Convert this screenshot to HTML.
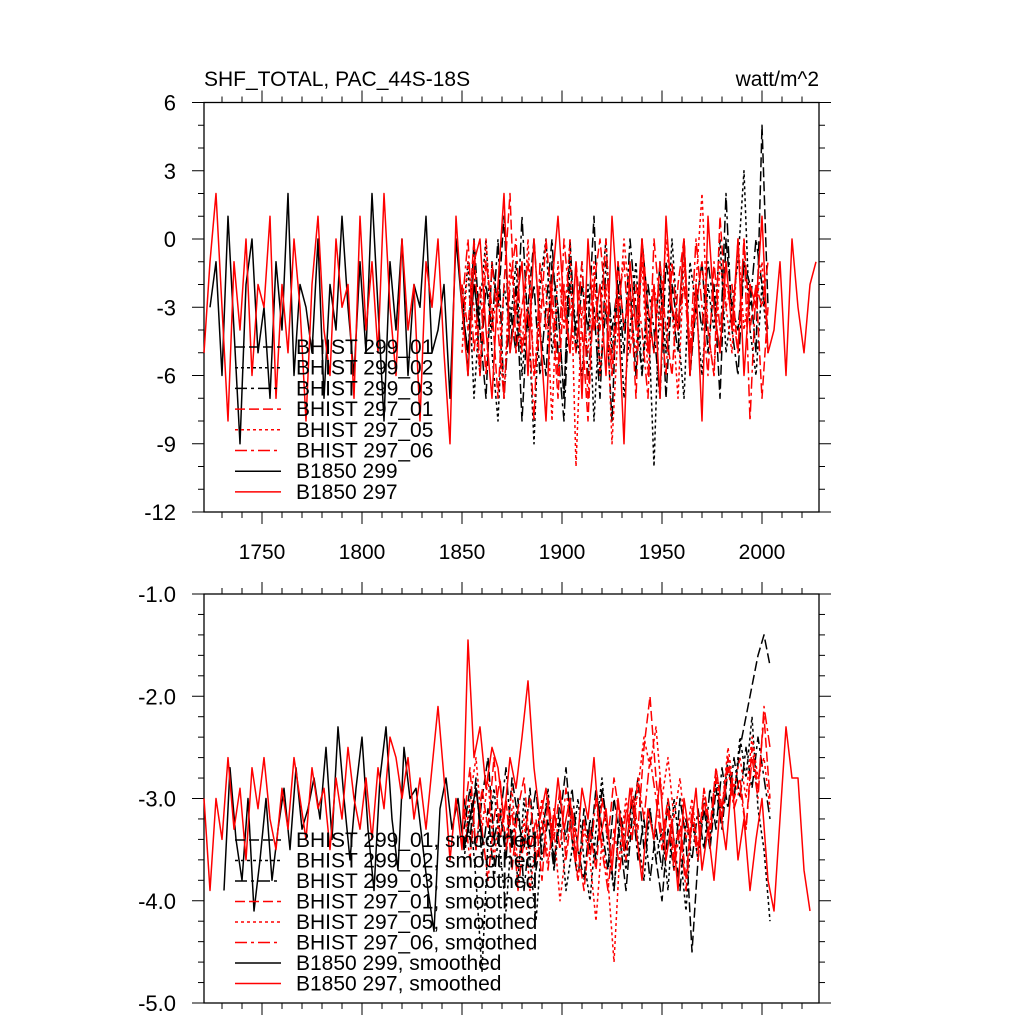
<!DOCTYPE html>
<html><head><meta charset="utf-8"><style>
html,body{margin:0;padding:0;background:#fff;}
svg{display:block;font-family:"Liberation Sans",sans-serif;}
</style></head><body>
<svg id="chart" width="1024" height="1024" viewBox="0 0 1024 1024">
<text x="204" y="86" font-size="21">SHF_TOTAL, PAC_44S-18S</text>
<text x="819" y="86" font-size="21" text-anchor="end">watt/m^2</text>
<g id="top"></g>
<g id="bot"></g>
</svg>
<script>
// ---- data ----
const xTickYears = [1750,1800,1850,1900,1950,2000];
const topYTicks = [6,3,0,-3,-6,-9,-12];
const botYTicks = [-1.0,-2.0,-3.0,-4.0,-5.0];
const seriesNames = ["BHIST 299_01","BHIST 299_02","BHIST 299_03","BHIST 297_01","BHIST 297_05","BHIST 297_06","B1850 299","B1850 297"];
const histStart = 1850, histStep = 3;
const rawH01 = [-2,-6,0,-4,-7,-1,-3,1,-5,-2,-8,-3,0,-4,-6,-1,-3,-7,0,-5,-2,-4,1,-6,-3,-8,-1,-4,-2,-6,0,-3,-5,-1,-7,-2,-4,0,-6,-3,-1,-5,-2,-7,0,-3,-4,-1,-2,-5,5,-3];
const rawH02 = [-4,-1,-7,-3,0,-5,-8,-2,-4,-1,-6,-3,-9,-2,0,-5,-3,-7,-1,-4,-6,-2,-8,-3,0,-5,-2,-7,-4,-1,-6,-3,-10,-2,-5,0,-4,-7,-1,-3,-6,-2,-4,0,-5,-3,-1,3,-4,-6,-2,-5];
const rawH03 = [-3,-5,-1,-6,-2,-4,0,-7,-3,-5,1,-4,-2,-6,-3,0,-5,-8,-2,-4,-1,-6,-3,-7,-1,-4,-2,-5,0,-3,-6,-2,-4,-7,-1,-3,-5,0,-6,-2,-4,-1,-3,-5,2,-4,-6,-1,-3,0,-2,-4];
const rawR01 = [-2,-4,0,-6,-1,-3,-7,-2,2,-5,-3,-1,-6,-4,0,-3,-7,-2,-5,-1,-4,-8,-2,0,-3,-6,-1,-4,-2,-7,0,-3,-5,-1,-4,-6,-2,0,-5,-3,-1,-4,-6,1,-3,-2,-5,0,-4,-2,-7,-3];
const rawR05 = [-5,-1,-3,-6,0,-4,-2,-7,-1,-3,-5,0,-6,-3,-2,-8,-1,-4,0,-10,-3,-5,-1,-6,-2,-9,-4,0,-3,-5,-1,-6,-2,-4,0,-3,-7,-1,-5,-2,2,-4,-6,-1,-3,-5,0,-4,-2,-3,-1,-5];
const rawR06 = [-3,0,-5,-2,-6,-1,-4,-7,-2,0,-5,-3,-8,-1,-4,-2,-6,0,-3,-5,-1,-7,-2,-4,0,-6,-3,-1,-5,-2,-4,-7,0,-3,-6,-1,-4,-2,-5,0,-3,-6,-1,-4,-2,-3,-5,0,-8,-2,-3,-1];
const rawB299Start = 1724;
const rawB299 = [-3,-1,-6,1,-4,-9,-2,0,-5,-3,-7,-1,-4,2,-6,-2,-3,-5,0,-7,-2,-4,1,-3,-6,-1,-5,2,-3,-8,-1,-4,0,-6,-2,-3,1,-5,-4,-2,-7,0,-3,-5,-2,-4];
const rawB297Start = 1721;
const rawB297 = [-5,-1,2,-3,-8,-1,-4,0,-6,-2,-3,1,-7,-2,-5,0,-3,-8,-2,1,-4,-6,0,-3,-2,-7,1,-4,-1,-5,2,-3,-6,0,-4,-2,-8,-1,-3,0,-5,-9,1,-3,-6,-1,0,-4,-7,-2,2,-5,-3,-1,-6,0,-4,-8,-2,1,-3,-5,-1,-7,0,-4,-2,-6,1,-3,-9,-1,-4,0,-5,-2,-7,1,-3,-4,0,-6,-2,-8,1,-3,-5,-1,-4,0,-6,-2,-3,1,-5,-4,-1,-6,0,-3,-5,-2,-1];
const smH01 = [-3.3,-2.9,-3.5,-3.0,-2.6,-3.4,-3.1,-3.6,-2.8,-3.2,-3.5,-2.9,-3.7,-3.3,-3.0,-3.6,-3.2,-2.7,-3.4,-3.8,-3.1,-3.5,-2.9,-3.3,-3.7,-3.0,-3.4,-3.9,-3.2,-2.8,-3.5,-3.1,-3.6,-4.0,-3.3,-3.7,-3.0,-3.4,-4.5,-3.6,-3.1,-3.5,-2.9,-3.3,-2.7,-3.0,-2.5,-2.2,-1.9,-1.6,-1.4,-1.7];
const smH02 = [-3.6,-3.1,-3.8,-4.7,-3.4,-2.9,-3.5,-4.1,-3.3,-3.8,-3.0,-3.6,-4.2,-3.4,-2.9,-3.7,-3.2,-3.9,-3.5,-3.0,-3.6,-4.0,-3.3,-2.8,-3.5,-3.9,-3.2,-3.7,-3.0,-3.4,-3.8,-3.1,-3.6,-3.3,-3.9,-3.0,-3.5,-4.1,-3.2,-3.6,-3.0,-3.4,-2.8,-3.2,-2.6,-3.0,-2.4,-2.8,-2.2,-3.1,-3.5,-4.2];
const smH03 = [-3.0,-3.4,-2.8,-3.6,-3.1,-3.8,-3.2,-2.7,-3.5,-3.0,-3.9,-3.3,-2.9,-3.6,-3.2,-3.7,-3.0,-3.4,-2.9,-3.5,-3.8,-3.2,-3.6,-2.9,-3.3,-3.9,-3.1,-3.5,-3.0,-3.6,-3.2,-3.8,-3.3,-3.7,-3.0,-3.4,-3.9,-3.2,-3.6,-3.1,-3.5,-2.9,-3.3,-2.7,-3.1,-2.6,-3.0,-2.5,-2.9,-2.4,-2.8,-3.2];
const smR01 = [-3.2,-2.7,-3.5,-2.9,-3.3,-2.6,-3.4,-3.0,-3.7,-3.1,-2.8,-3.5,-3.2,-3.8,-3.0,-3.4,-2.9,-3.6,-3.1,-3.5,-3.9,-3.3,-3.7,-3.0,-3.4,-2.8,-3.2,-3.6,-2.9,-3.3,-2.5,-2.0,-2.8,-3.4,-3.0,-3.6,-3.2,-3.8,-3.1,-3.5,-2.9,-3.3,-2.7,-3.1,-2.6,-3.0,-2.8,-3.3,-2.5,-2.9,-2.2,-3.0];
const smR05 = [-3.5,-3.0,-2.6,-3.3,-2.8,-3.6,-3.1,-3.4,-2.9,-3.7,-3.2,-3.9,-3.4,-3.0,-3.6,-3.3,-4.0,-3.5,-3.1,-3.8,-3.3,-3.6,-4.2,-3.4,-3.8,-4.6,-3.5,-3.0,-3.4,-2.9,-2.4,-2.7,-2.3,-3.0,-2.6,-3.2,-2.8,-3.4,-3.0,-3.5,-2.9,-3.3,-2.7,-3.1,-2.5,-2.9,-2.6,-3.0,-2.4,-2.8,-2.6,-3.1];
const smR06 = [-3.1,-3.6,-2.9,-3.3,-3.8,-3.2,-2.8,-3.5,-3.1,-3.9,-3.4,-3.0,-3.6,-3.2,-3.7,-3.1,-3.5,-2.9,-3.4,-3.8,-3.2,-3.6,-3.0,-3.5,-3.9,-3.3,-3.7,-3.1,-3.4,-2.8,-3.2,-2.6,-3.0,-3.5,-3.1,-3.7,-3.3,-3.9,-3.2,-3.6,-3.0,-3.4,-2.8,-3.2,-2.7,-3.1,-2.9,-3.3,-2.6,-3.0,-2.1,-2.5];
const smB299Start = 1731;
const smB299 = [-3.9,-2.7,-3.4,-3.8,-3.0,-4.1,-3.6,-3.0,-3.8,-3.3,-2.9,-3.5,-2.7,-3.3,-3.1,-2.8,-3.2,-2.5,-3.4,-2.3,-3.0,-3.6,-2.9,-2.4,-3.3,-3.9,-2.8,-2.3,-3.2,-3.7,-2.5,-3.0,-2.9,-3.4,-3.9,-4.3,-3.1,-2.8,-3.3,-3.0,-3.5,-3.2,-2.9,-3.4];
const smB297Start = 1721;
const smB297 = [-3.0,-3.9,-3.0,-3.4,-2.6,-3.3,-2.9,-3.6,-2.7,-3.1,-2.6,-3.2,-3.5,-2.9,-3.3,-2.6,-3.0,-3.4,-2.7,-3.1,-2.9,-3.5,-2.8,-3.2,-2.5,-3.0,-3.3,-2.8,-3.4,-2.7,-3.1,-2.4,-2.6,-3.0,-2.6,-3.2,-2.8,-3.3,-2.7,-2.1,-2.8,-3.6,-3.0,-3.5,
 -1.45,-2.6,-2.3,-2.9,-2.5,-2.7,-3.2,-2.6,-2.9,-2.4,-1.85,
 -2.7,-3.2,-2.9,-3.4,-2.8,-3.3,-3.0,-3.6,-2.9,-3.2,-2.6,-3.4,-3.1,-3.7,-3.0,-3.5,-2.9,-3.3,-3.8,-3.1,-3.4,-2.8,-3.6,-3.2,-3.9,-3.0,-3.4,-2.9,-3.7,-3.3,-3.8,-3.1,-3.5,-2.8,-3.6,-3.2,-3.9,-3.4,-3.0,
 -3.8,-4.1,-3.2,-2.3,-2.8,-2.8,-3.7,-4.1];
const smStep = 3;

// ---- layout ----
const NS = "http://www.w3.org/2000/svg";
const L = 204, R = 819, X0 = 1721, X1 = 2028.5;
const xS = v => L + (v - X0) / (X1 - X0) * (R - L);
const topP = {g: document.getElementById('top'), t: 102.5, b: 512, y0: 6, y1: -12, minor: 1, ticks: topYTicks, fmt: v => String(v), xlabels: true};
const botP = {g: document.getElementById('bot'), t: 594, b: 1003, y0: -1, y1: -5, minor: 0.2, ticks: botYTicks, fmt: v => v.toFixed(1), xlabels: false};
function yS(p, v) { return p.t + (p.y0 - v) / (p.y0 - p.y1) * (p.b - p.t); }
function el(tag, attrs, parent) {
  const e = document.createElementNS(NS, tag);
  for (const k in attrs) e.setAttribute(k, attrs[k]);
  parent.appendChild(e);
  return e;
}
const styles = [
  {c: "#000", d: "10,4"}, {c: "#000", d: "3,3"}, {c: "#000", d: "12,4,3,4"},
  {c: "#f00", d: "10,4"}, {c: "#f00", d: "3,3"}, {c: "#f00", d: "12,4,3,4"},
  {c: "#000", d: ""}, {c: "#f00", d: ""}
];

function drawAxes(p, nm) {
  const g = p.g;
  const fr = el('rect', {x: L, y: p.t, width: R - L, height: p.b - p.t, fill: 'none', stroke: '#000', 'stroke-width': 1.3}, g);
  
  
  for (let yr = 1730; yr <= 2020; yr += 10) {
    const x = xS(yr), maj = yr % 50 === 0, len = maj ? 12 : 6;
    const t1 = el('line', {x1: x, x2: x, y1: p.b, y2: p.b + len, stroke: '#000', 'stroke-width': 1}, g);
    
    
    const t2 = el('line', {x1: x, x2: x, y1: p.t, y2: p.t - len, stroke: '#000', 'stroke-width': 1}, g);
    
    
  }
  if (p.xlabels) {
    xTickYears.forEach(yr => {
      const t = el('text', {x: xS(yr), y: p.b + 47, 'font-size': 21, 'text-anchor': 'middle'}, g);
      t.textContent = yr;
      
      
    });
  }
  const n = Math.round((p.y0 - p.y1) / p.minor);
  for (let i = 0; i <= n; i++) {
    const v = p.y0 - i * p.minor, y = yS(p, v);
    const maj = p.ticks.some(t => Math.abs(t - v) < 1e-6), len = maj ? 12 : 6;
    const a = el('line', {x1: L - len, x2: L, y1: y, y2: y, stroke: '#000', 'stroke-width': 1}, g);
    
    
    const b = el('line', {x1: R, x2: R + len, y1: y, y2: y, stroke: '#000', 'stroke-width': 1}, g);
    
    
  }
  p.ticks.forEach(v => {
    const t = el('text', {x: L - 28, y: yS(p, v) + 8, 'font-size': 22, 'text-anchor': 'end'}, g);
    t.textContent = p.fmt(v);
    
    
  });
}

function drawSeries(p, vals, start, step, si, nm) {
  const pts = [];
  vals.forEach((v, i) => {
    const yr = start + i * step;
    if (yr > X1) return;
    pts.push(xS(yr).toFixed(1) + ',' + yS(p, v).toFixed(1));
  });
  const s = styles[si];
  const pl = el('polyline', {points: pts.join(' '), fill: 'none', stroke: s.c, 'stroke-width': 1.5, 'stroke-dasharray': s.d, 'stroke-linejoin': 'round'}, p.g);
  
  
}

function drawLegend(p, y0, dy, suffix, nm) {
  seriesNames.forEach((name, i) => {
    const y = y0 + i * dy, s = styles[i];
    const ln = el('line', {x1: 235, x2: 281, y1: y, y2: y, stroke: s.c, 'stroke-width': 1.5, 'stroke-dasharray': s.d}, p.g);
    
    
    const t = el('text', {x: 296, y: y + 7, 'font-size': 21}, p.g);
    t.textContent = name + suffix;
    
    
  });
}

drawAxes(topP, 'top');
drawAxes(botP, 'bottom');

const rawHist = [rawH01, rawH02, rawH03, rawR01, rawR05, rawR06];
rawHist.forEach((a, i) => drawSeries(topP, a, histStart, histStep, i, 'top-series-' + i));
drawSeries(topP, rawB299, rawB299Start, 3, 6, 'top-b1850-299');
drawSeries(topP, rawB297, rawB297Start, 3, 7, 'top-b1850-297');

const smHist = [smH01, smH02, smH03, smR01, smR05, smR06];
smHist.forEach((a, i) => drawSeries(botP, a, histStart + 1, smStep, i, 'bottom-series-' + i));
drawSeries(botP, smB299, smB299Start, smStep, 6, 'bottom-b1850-299');
drawSeries(botP, smB297, smB297Start, smStep, 7, 'bottom-b1850-297');

drawLegend(topP, 347, 20.7, '', 'top');
drawLegend(botP, 840, 20.5, ', smoothed', 'bottom');
</script>
</body></html>
